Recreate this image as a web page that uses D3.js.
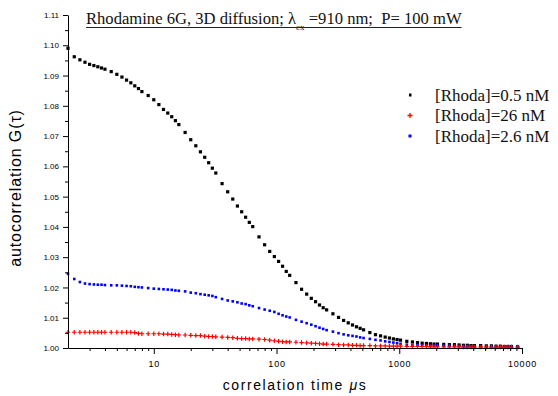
<!DOCTYPE html>
<html>
<head>
<meta charset="utf-8">
<script src="https://cdn.jsdelivr.net/npm/d3@7"></script>
<style>
  body { margin: 0; background: #fff; }
  .tick text { font-family: "Liberation Sans", Arial, sans-serif; fill: #000; }
</style>
</head>
<body>
<svg id="chart" width="558" height="396"></svg>
<script>
'use strict';

// lag times (multi-tau style channels), microseconds
let tau = [
    2, 2.25, 2.5, 2.75, 3, 3.25, 3.5, 3.75,
    4, 4.5, 5, 5.5, 6, 6.5, 7, 7.5,
    8, 9, 10, 11, 12, 13, 14, 15,
    16, 18, 20, 22, 24, 26, 28, 30,
    32, 36, 40, 44, 48, 52, 56, 60,
    64, 72, 80, 88, 96, 104, 112, 120,
    128, 144, 160, 176, 192, 208, 224, 240,
    256, 288, 320, 352, 384, 416, 448, 480,
    512, 576, 640, 704, 768, 832, 896, 960,
    1024, 1152, 1280, 1408, 1536, 1664, 1792, 1920,
    2048, 2304, 2560, 2816, 3072, 3328, 3584, 3840,
    4096, 4608, 5120, 5632, 6144, 6656, 7168, 7680,
    8192, 9216
]

let gHalfNM = [
    1.0990, 1.0962, 1.0952, 1.0944, 1.0937, 1.0933, 1.0929, 1.0925,
    1.0921, 1.0913, 1.0904, 1.0895, 1.0885, 1.0876, 1.0866, 1.0857,
    1.0847, 1.0834, 1.0820, 1.0804, 1.0788, 1.0776, 1.0764, 1.0751,
    1.0738, 1.0712, 1.0688, 1.0668, 1.0648, 1.0630, 1.0612, 1.0594,
    1.0578, 1.0543, 1.0516, 1.0492, 1.0469, 1.0450, 1.0432, 1.0415,
    1.0401, 1.0367, 1.0341, 1.0319, 1.0302, 1.0286, 1.0270, 1.0253,
    1.0240, 1.0216, 1.0194, 1.0178, 1.0164, 1.0153, 1.0142, 1.0133,
    1.0126, 1.0113, 1.0101, 1.0091, 1.0083, 1.0076, 1.0070, 1.0065,
    1.0060, 1.0051, 1.0044, 1.0040, 1.0036, 1.0033, 1.0030, 1.0028,
    1.0026, 1.0022, 1.0020, 1.0018, 1.0016, 1.0015, 1.0014, 1.0013,
    1.0013, 1.0012, 1.0011, 1.0011, 1.0010, 1.0009, 1.0009, 1.0008,
    1.0008, 1.0008, 1.0007, 1.0007, 1.0006, 1.0006, 1.0005, 1.0005,
    1.0005, 1.0004
]

let g26NM = [
    1.0052, 1.0052, 1.0052, 1.0052, 1.0052, 1.0052, 1.0052, 1.0052,
    1.0052, 1.0052, 1.0052, 1.0052, 1.0052, 1.0052, 1.0051, 1.0048,
    1.0047, 1.0047, 1.0047, 1.0047, 1.0046, 1.0046, 1.0045, 1.0044,
    1.0043, 1.0043, 1.0042, 1.0041, 1.0041, 1.0039, 1.0038, 1.0038,
    1.0037, 1.0036, 1.0035, 1.0034, 1.0032, 1.0031, 1.0031, 1.0030,
    1.0030, 1.0029, 1.0028, 1.0026, 1.0024, 1.0022, 1.0021, 1.0020,
    1.0020, 1.0019, 1.0018, 1.0017, 1.0016, 1.0015, 1.0014, 1.0013,
    1.0013, 1.0012, 1.0011, 1.0010, 1.0010, 1.0009, 1.0009, 1.0008,
    1.0008, 1.0008, 1.0007, 1.0007, 1.0007, 1.0006, 1.0006, 1.0006,
    1.0006, 1.0005, 1.0005, 1.0005, 1.0005, 1.0005, 1.0004, 1.0004,
    1.0004, 1.0004, 1.0004, 1.0004, 1.0004, 1.0003, 1.0003, 1.0003,
    1.0003, 1.0003, 1.0003, 1.0003, 1.0003, 1.0003, 1.0003, 1.0003,
    1.0003, 1.0003
]

let g2p6NM = [
    1.0245, 1.0228, 1.0218, 1.0213, 1.0211, 1.0210, 1.0209, 1.0209,
    1.0208, 1.0207, 1.0207, 1.0206, 1.0205, 1.0204, 1.0202, 1.0201,
    1.0200, 1.0198, 1.0196, 1.0195, 1.0194, 1.0193, 1.0192, 1.0190,
    1.0189, 1.0187, 1.0183, 1.0181, 1.0178, 1.0176, 1.0174, 1.0172,
    1.0168, 1.0162, 1.0157, 1.0154, 1.0151, 1.0147, 1.0145, 1.0141,
    1.0138, 1.0132, 1.0127, 1.0123, 1.0119, 1.0113, 1.0108, 1.0104,
    1.0101, 1.0093, 1.0087, 1.0082, 1.0077, 1.0072, 1.0067, 1.0063,
    1.0059, 1.0054, 1.0049, 1.0045, 1.0042, 1.0040, 1.0038, 1.0035,
    1.0033, 1.0030, 1.0027, 1.0025, 1.0022, 1.0020, 1.0018, 1.0016,
    1.0014, 1.0011, 1.0010, 1.0009, 1.0009, 1.0008, 1.0008, 1.0008,
    1.0008, 1.0007, 1.0007, 1.0007, 1.0006, 1.0006, 1.0006, 1.0005,
    1.0005, 1.0005, 1.0005, 1.0004, 1.0004, 1.0004, 1.0004, 1.0004,
    1.0003, 1.0003
]

let xTickValues = [10, 100, 1000, 10000]
let yTickValues = [1.00, 1.01, 1.02, 1.03, 1.04, 1.05, 1.06, 1.07, 1.08, 1.09, 1.10, 1.11]
let legendLabels = ["[Rhoda]=0.5 nM", "[Rhoda]=26 nM", "[Rhoda]=2.6 nM"]

let chart = (function() {
    let svg = d3.select("#chart")

    let x = d3.scaleLog().domain([2, 10000]).range([68, 522])
    let y = d3.scaleLinear().domain([1.00, 1.11]).range([348, 15])

    function drawAxes() {
        // minor ticks first, then the major ones on top
        let xMinor = []
        for (let dec = 1; dec <= 1000; dec *= 10) {
            for (let m = 2; m <= 9; m++) {
                if (m * dec > 2) xMinor.push(m * dec)
            }
        }
        svg.append("g")
            .attr("transform", "translate(0,348)")
            .call(d3.axisBottom(x).tickValues(xMinor).tickSize(3).tickFormat(""))
            .call(g => g.select(".domain").remove())

        let xAxis = svg.append("g")
            .attr("transform", "translate(0,348)")
            .call(d3.axisBottom(x).tickValues(xTickValues).tickSize(6).tickSizeOuter(0)
                .tickFormat(d3.format("d")))
        xAxis.selectAll("text").attr("font-size", 9).attr("letter-spacing", 0.8).attr("dy", "1.1em")

        let yMinor = yTickValues.slice(0, -1).map(d => d + 0.005)
        svg.append("g")
            .attr("transform", "translate(68,0)")
            .call(d3.axisLeft(y).tickValues(yMinor).tickSize(3).tickFormat(""))
            .call(g => g.select(".domain").remove())

        let yAxis = svg.append("g")
            .attr("transform", "translate(68,0)")
            .call(d3.axisLeft(y).tickValues(yTickValues).tickSize(5).tickSizeOuter(0)
                .tickFormat(d3.format(".2f")))
        yAxis.selectAll("text").attr("font-size", 8).attr("x", -9)

        svg.selectAll(".domain, .tick line").attr("stroke", "#000")
    }

    function drawTitles() {
        let title = svg.append("text")
            .attr("x", 86)
            .attr("y", 24)
            .attr("font-family", "'Liberation Serif', 'Times New Roman', serif")
            .attr("font-size", 16.6)
            .attr("fill", "#111")
            .style("white-space", "pre")
        title.append("tspan").text("Rhodamine 6G, 3D diffusion; \u03bb")
        title.append("tspan").attr("dy", 6).attr("font-size", 9).text("ex")
        title.append("tspan").attr("dy", -6).text(" =910 nm;  P= 100 mW")

        let w = title.node().getComputedTextLength()
        svg.append("line")
            .attr("x1", 86).attr("x2", 86 + w)
            .attr("y1", 27.5).attr("y2", 27.5)
            .attr("stroke", "#222").attr("stroke-width", 1)

        let xl = svg.append("text")
            .attr("x", 295)
            .attr("y", 390)
            .attr("text-anchor", "middle")
            .attr("font-family", "'Liberation Sans', Arial, sans-serif")
            .attr("font-size", 14)
            .attr("letter-spacing", 1.6)
            .style("white-space", "pre")
        xl.append("tspan").text("correlation time ")
        xl.append("tspan").attr("font-style", "italic").text("\u03bc")
        xl.append("tspan").text("s")

        svg.append("text")
            .attr("transform", "translate(21,188) rotate(-90)")
            .attr("text-anchor", "middle")
            .attr("font-family", "'Liberation Sans', Arial, sans-serif")
            .attr("font-size", 16)
            .attr("letter-spacing", 0.9)
            .text("autocorrelation G(\u03c4)")
    }

    function squares(data, color, size) {
        svg.append("g")
            .selectAll("rect")
            .data(data)
            .enter().append("rect")
            .attr("x", d => x(d[0]) - size / 2)
            .attr("y", d => y(d[1]) - size / 2)
            .attr("width", size)
            .attr("height", size)
            .attr("fill", color)
    }

    function crossPath(cx, cy, h) {
        return "M" + (cx - h) + "," + cy + "H" + (cx + h) + "M" + cx + "," + (cy - h) + "V" + (cy + h)
    }

    function crosses(data, color, size) {
        svg.append("g")
            .selectAll("path")
            .data(data)
            .enter().append("path")
            .attr("d", d => crossPath(x(d[0]), y(d[1]), size / 2))
            .attr("stroke", color)
            .attr("stroke-width", 1.2)
            .attr("fill", "none")
    }

    function drawSeries() {
        let black = tau.map((t, i) => [t, gHalfNM[i]])
        let red = tau.map((t, i) => [t, g26NM[i]])
        let blue = tau.map((t, i) => [t, g2p6NM[i]])
        squares(black, "#000", 3.2)
        squares(blue, "#0000ff", 2.6)
        crosses(red, "#ff0000", 4.5)
    }

    function drawLegend() {
        let rows = [0, 1, 2].map(i => ({ label: legendLabels[i], y: 95 + i * 20.5 }))
        let g = svg.append("g")
        g.append("rect").attr("x", 409).attr("y", rows[0].y - 1.5).attr("width", 2.5).attr("height", 3).attr("fill", "#000")
        g.append("path")
            .attr("d", crossPath(410, rows[1].y, 2.5))
            .attr("stroke", "#ff0000").attr("stroke-width", 1.3).attr("fill", "none")
        g.append("rect").attr("x", 408.5).attr("y", rows[2].y - 1.5).attr("width", 3).attr("height", 3).attr("fill", "#0000ff")

        g.selectAll("text")
            .data(rows)
            .enter().append("text")
            .attr("x", 435)
            .attr("y", d => d.y + 5.5)
            .attr("font-family", "'Liberation Serif', 'Times New Roman', serif")
            .attr("font-size", 17)
            .attr("fill", "#111")
            .text(d => d.label)
    }

    return { drawAxes, drawTitles, drawSeries, drawLegend }
}())

chart.drawSeries()
chart.drawAxes()
chart.drawTitles()
chart.drawLegend()
</script>
</body>
</html>
